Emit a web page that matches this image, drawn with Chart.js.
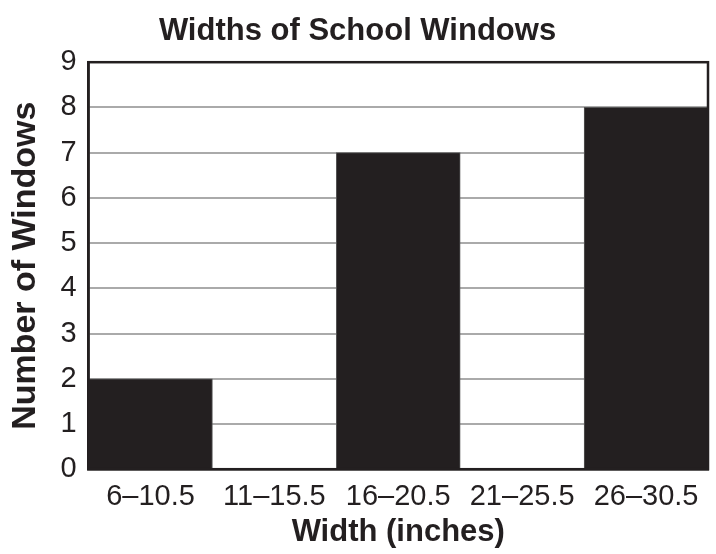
<!DOCTYPE html>
<html>
<head>
<meta charset="utf-8">
<script src="https://cdn.jsdelivr.net/npm/chart.js@4/dist/chart.umd.min.js"></script>
<style>
  html, body { margin: 0; padding: 0; background: #fff; }
  #wrap { width: 716px; height: 554px; }
</style>
</head>
<body>
<div id="wrap"><canvas id="chart" width="716" height="554"></canvas></div>
<script>
// datos del histograma
const categorias = ['6–10.5', '11–15.5', '16–20.5', '21–25.5', '26–30.5'];
const ventanas = [2, 0, 7, 0, 8];
const yMin = 0;
const yMax = 9;

// marco alrededor del área del gráfico
const marco = {
  id: 'marco',
  afterDatasetsDraw(chart) {
    const a = chart.chartArea;
    const ctx = chart.ctx;
    ctx.save();
    ctx.strokeStyle = '#231f20';
    ctx.lineWidth = 2.5;
    ctx.strokeRect(a.left, a.top, a.right - a.left, a.bottom - a.top);
    ctx.restore();
  }
};

const fuente = 'Liberation Sans, Arial, Helvetica, sans-serif';

new Chart(document.getElementById('chart').getContext('2d'), {
  type: 'bar',
  data: {
    labels: categorias,
    datasets: [{
      label: 'Number of Windows',
      data: ventanas,
      backgroundColor: '#231f20',
      borderColor: '#555',
      borderWidth: 1,
      barPercentage: 1,
      categoryPercentage: 1
    }]
  },
  options: {
    responsive: false,
    animation: false,
    layout: { padding: { left: 7, right: 8, top: 0, bottom: 6 } },
    plugins: {
      legend: { display: false },
      tooltip: { enabled: false },
      title: {
        display: true,
        text: 'Widths of School Windows',
        color: '#231f20',
        font: { family: fuente, size: 31, weight: 'bold' },
        padding: { top: 13, bottom: 12 }
      }
    },
    scales: {
      x: {
        grid: { display: false, drawTicks: false },
        border: { color: '#231f20', width: 2.5 },
        ticks: { color: '#231f20', font: { family: fuente, size: 29 }, padding: 10, maxRotation: 0 },
        title: {
          display: true,
          text: 'Width (inches)',
          color: '#231f20',
          font: { family: fuente, size: 31, weight: 'bold', lineHeight: 1.0 },
          padding: { top: -7, bottom: 0 }
        }
      },
      y: {
        min: yMin,
        max: yMax,
        grid: { color: '#aaaaaa', lineWidth: 2, drawTicks: false },
        border: { color: '#231f20', width: 2.5 },
        ticks: { stepSize: 1, color: '#231f20', font: { family: fuente, size: 29 }, padding: 12 },
        title: {
          display: true,
          text: 'Number of Windows',
          color: '#231f20',
          font: { family: fuente, size: 34, weight: 'bold', lineHeight: 1.1 },
          padding: { top: 0, bottom: 4 }
        }
      }
    }
  },
  plugins: [marco]
});
</script>
</body>
</html>
